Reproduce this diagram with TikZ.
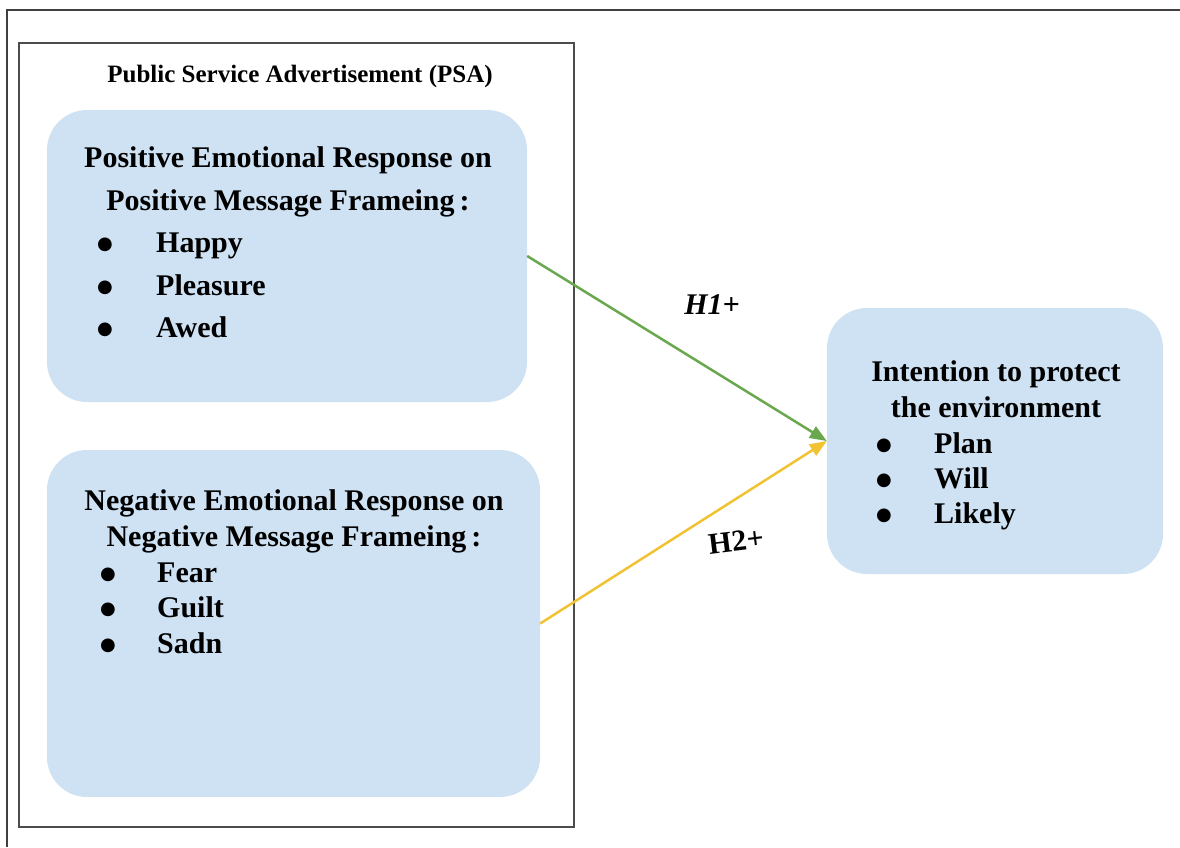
\documentclass[tikz,border=0pt]{standalone}
\usepackage{fontspec}
\setmainfont{Liberation Serif}
\newfontfamily\dotfont{DejaVu Sans}
\usetikzlibrary{arrows.meta,positioning}
\definecolor{boxblue}{RGB}{207,226,243}
\definecolor{arrgreen}{RGB}{106,168,79}
\definecolor{arryellow}{RGB}{241,194,50}

\begin{document}
\begin{tikzpicture}[x=1pt,y=-1pt,
    panel/.style={fill=boxblue, rounded corners=40pt, inner sep=0pt},
    head/.style={font=\fontsize{30}{36}\selectfont\bfseries, anchor=base, inner sep=0pt},
    item/.style={font=\fontsize{30}{36}\selectfont\bfseries, anchor=base west, inner sep=0pt},
    dot/.style={font=\dotfont\fontsize{18}{20}\selectfont, anchor=base, inner sep=0pt},
    link/.style={line width=2.5pt, -{Triangle[length=17pt,width=13pt]}},
]
        \useasboundingbox (0,0) rectangle (1180,847);
        \draw[line width=2pt, black!75] (7,847) -- (7,10) -- (1180,10);
        % PSA frame
        \node[draw=black!70, line width=1.5pt, minimum width=555pt, minimum height=784pt, inner sep=0pt] (psa) at (296.5,435) {};
        \node[font=\fontsize{25}{30}\selectfont\bfseries, anchor=base, inner sep=0pt] (title) at (300,82) {Public Service Advertisement (PSA)};
        % panels
        \node[panel, minimum width=480pt, minimum height=292pt] (pos) at (287,256) {};
        \node[panel, minimum width=493pt, minimum height=347pt] (neg) at (293.5,623.5) {};
        \node[panel, minimum width=336pt, minimum height=266pt] (intent) at (995,441) {};
        % positive framing
        \node[head] (pos1) at (288,167) {Positive Emotional Response on};
        \node[head] (pos2) at (288,210) {Positive Message Frameing\,:};
        \node[dot] (pd1) at (105,249) {●};
        \node[item] (happy) at (156,252) {Happy};
        \node[dot] (pd2) at (105,292) {●};
        \node[item] (pleasure) at (156,295) {Pleasure};
        \node[dot] (pd3) at (105,334) {●};
        \node[item] (awed) at (156,337) {Awed};
        % negative framing
        \node[head] (neg1) at (294,510) {Negative Emotional Response on};
        \node[head] (neg2) at (294,546) {Negative Message Frameing\,:};
        \node[dot] (nd1) at (108,579) {●};
        \node[item] (fear) at (157,582) {Fear};
        \node[dot] (nd2) at (108,614) {●};
        \node[item] (guilt) at (157,617) {Guilt};
        \node[dot] (nd3) at (108,650) {●};
        \node[item] (sadn) at (157,653) {Sadn};
        % intention
        \node[head] (int1) at (996,381) {Intention to protect};
        \node[head] (int2) at (996,417) {the environment};
        \node[dot] (id1) at (884,450) {●};
        \node[item] (plan) at (934,453) {Plan};
        \node[dot] (id2) at (884,485) {●};
        \node[item] (will) at (934,488) {Will};
        \node[dot] (id3) at (884,520) {●};
        \node[item] (likely) at (934,523) {Likely};
        % hypotheses
        \draw[link, arrgreen] (pos.east) -- (intent.west);
        \draw[link, arryellow] (neg.east) -- (intent.west);
        \node[font=\fontsize{30}{34}\selectfont\bfseries\itshape] (h1) at (712,305) {H1+};
        \node[font=\fontsize{30}{34}\selectfont\bfseries, rotate=7] (h2) at (736,541) {H2+};
\end{tikzpicture}
\end{document}
